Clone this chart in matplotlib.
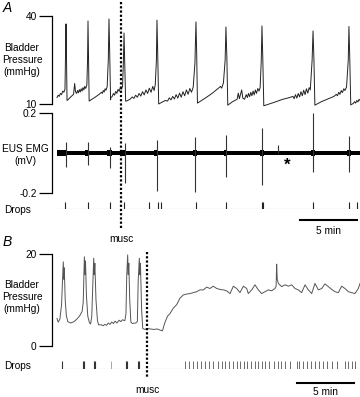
import matplotlib
matplotlib.use("Agg")
import matplotlib.pyplot as plt
from matplotlib.lines import Line2D
from matplotlib.transforms import blended_transform_factory

plt.rcParams["font.family"] = ["Liberation Sans", "DejaVu Sans"]

W, H = 360, 397
T_MAX = 26.58  # minutes shown in each row

# ---- panel A : bladder pressure (min, mmHg) ----
a_pressure = [
    (0.0, 12.2), (0.1, 13.0), (0.2, 12.6), (0.3, 13.6), (0.4, 13.2), (0.5, 14.4), (0.6, 14.0), (0.7, 15.0),
    (0.76, 30), (0.79, 37.3), (0.82, 30), (0.88, 11.2),
    (1.0, 11.6), (1.2, 12.4), (1.45, 13.3), (1.55, 17.0), (1.62, 14.2), (1.72, 13.6), (1.8, 14.6), (1.88, 13.8),
    (1.96, 14.9), (2.04, 14.1), (2.12, 15.2), (2.2, 14.4), (2.28, 15.6), (2.36, 14.8), (2.44, 16.0), (2.52, 15.3),
    (2.62, 16.5), (2.68, 25), (2.72, 38.3), (2.76, 28), (2.82, 11.0),
    (3.3, 12.2), (3.7, 13.3), (3.9, 14.0), (3.98, 13.6), (4.06, 14.6), (4.14, 14.1), (4.22, 15.2), (4.3, 14.7),
    (4.4, 15.9), (4.5, 25), (4.56, 39.0), (4.62, 28), (4.7, 11.4),
    (4.72, 12.2), (4.85, 12.6), (4.95, 13.6), (5.05, 13.0), (5.15, 14.3), (5.25, 13.6), (5.35, 15.0), (5.45, 14.3),
    (5.55, 15.6), (5.65, 15.0), (5.75, 16.0), (5.82, 24), (5.88, 34.2), (5.94, 24), (6.02, 11.0),
    (6.1, 11.0), (6.4, 11.6), (6.6, 12.4), (6.75, 11.9), (6.9, 13.0), (7.05, 12.3), (7.2, 13.6), (7.35, 12.7),
    (7.5, 14.2), (7.65, 13.1), (7.8, 14.8), (7.95, 13.6), (8.1, 15.4), (8.25, 14.0), (8.4, 16.0), (8.52, 14.6),
    (8.62, 16.6), (8.72, 25), (8.77, 38.6), (8.83, 28), (8.92, 10.0),
    (9.2, 10.6), (9.5, 11.2), (9.7, 11.0), (9.85, 12.1), (10.0, 11.4), (10.15, 12.6), (10.3, 11.7), (10.45, 13.2),
    (10.6, 12.0), (10.75, 13.7), (10.9, 12.3), (11.05, 14.2), (11.2, 12.8), (11.35, 14.8), (11.5, 13.3),
    (11.65, 15.3), (11.8, 14.0), (11.95, 15.8), (12.1, 24), (12.19, 38.0), (12.25, 28), (12.32, 10.3),
    (13.0, 12.0), (13.6, 13.6), (14.1, 15.2), (14.35, 16.0), (14.45, 15.4), (14.6, 17.2), (14.75, 25),
    (14.82, 36.25), (14.9, 26), (14.98, 9.6),
    (15.4, 10.8), (15.8, 11.6), (15.9, 13.7), (16.0, 11.8), (16.2, 14.8), (16.3, 12.0), (16.45, 11.6), (16.6, 13.2),
    (16.7, 12.2), (16.8, 13.6), (16.9, 12.5), (17.0, 14.0), (17.1, 12.8), (17.2, 14.4), (17.3, 13.1), (17.4, 14.8),
    (17.5, 13.6), (17.62, 15.3), (17.72, 14.4), (17.82, 15.6), (17.92, 25), (17.98, 36.6), (18.05, 26), (18.14, 9.4),
    (19.0, 10.5), (19.8, 11.6), (20.4, 12.2), (20.7, 12.6), (20.8, 11.8), (20.92, 13.2), (21.04, 12.0),
    (21.16, 13.6), (21.28, 12.4), (21.4, 14.2), (21.52, 12.8), (21.64, 14.7), (21.76, 13.2), (21.88, 15.2),
    (22.0, 13.7), (22.12, 15.6), (22.22, 14.8), (22.38, 25), (22.46, 34.9), (22.54, 25), (22.62, 9.6),
    (23.2, 10.8), (23.8, 11.8), (24.3, 12.6), (24.5, 13.3), (24.6, 12.8), (24.72, 14.0), (24.82, 13.3),
    (24.94, 14.6), (25.04, 13.9), (25.16, 15.2), (25.26, 14.6), (25.4, 15.8), (25.55, 25), (25.61, 36.4),
    (25.68, 26), (25.77, 9.7),
    (26.0, 10.2), (26.1, 10.8), (26.2, 10.3), (26.3, 11.2), (26.4, 10.7), (26.5, 11.6), (26.58, 11.2),
]

# EUS EMG (mV): spikes (time, up, down), bursts (start, end, half width)
a_emg_spikes = [
    (0.79, 0.055, -0.07), (2.72, 0.055, -0.06), (4.65, 0.03, -0.075), (5.96, 0.05, -0.15),
    (8.77, 0.065, -0.19), (12.1, 0.08, -0.195), (14.82, 0.09, -0.12), (17.98, 0.125, -0.16),
    (19.41, 0.04, 0.0), (22.46, 0.2, -0.095), (25.61, 0.085, -0.095),
]
a_emg_bursts = [
    (0.0, 0.75, 0.017), (2.5, 2.8, 0.016), (4.4, 4.8, 0.016), (5.5, 6.05, 0.016), (8.55, 8.9, 0.017),
    (11.95, 12.3, 0.017), (14.65, 14.95, 0.016), (17.8, 18.15, 0.017), (22.3, 22.6, 0.017), (25.45, 25.75, 0.017),
]
a_emg_noise = 0.0105
a_star = (20.18, -0.06)

a_drops = [0.70, 2.72, 4.65, 5.88, 8.07, 8.86, 9.08, 12.19, 14.82, 17.94, 18.03, 22.46, 25.61, 26.32]
a_musc = 5.61

# ---- panel B : bladder pressure (min, mmHg) ----
b_pressure = [
    (0.0, 6.0), (0.1, 5.2), (0.25, 5.8), (0.4, 9.0), (0.5, 15.5), (0.55, 18.3), (0.6, 14.5), (0.64, 17.0),
    (0.72, 10.0), (0.82, 6.6), (0.95, 5.3), (1.2, 5.0), (1.5, 5.3), (1.8, 6.0), (2.0, 6.6), (2.2, 7.5),
    (2.3, 9.5), (2.36, 16), (2.4, 19.4), (2.45, 15.5), (2.5, 18.5), (2.58, 11.0), (2.7, 6.5), (2.85, 5.0),
    (2.95, 4.8), (3.05, 6.5), (3.15, 14), (3.22, 19.1), (3.27, 15.5), (3.32, 18.0), (3.42, 10.0), (3.55, 5.5),
    (3.65, 4.6), (3.9, 4.6), (4.05, 4.4), (4.2, 4.7), (4.35, 4.5), (4.5, 5.0), (4.65, 4.7), (4.8, 5.2),
    (4.95, 4.9), (5.1, 5.4), (5.25, 5.0), (5.45, 5.6), (5.6, 5.3), (5.75, 5.7), (5.95, 5.5), (6.05, 7.0),
    (6.12, 15.5), (6.2, 19.8), (6.25, 15.5), (6.3, 18.0), (6.38, 10.0), (6.48, 5.2), (6.6, 4.9), (6.9, 5.0),
    (7.05, 5.3), (7.12, 14), (7.22, 19.1), (7.27, 15.5), (7.32, 18.0), (7.42, 8.0), (7.52, 3.8), (7.7, 3.6),
    (7.9, 3.8), (8.2, 3.7), (8.5, 3.6), (8.8, 3.7), (9.0, 3.5), (9.25, 3.3), (9.45, 5.0), (9.7, 6.5),
    (9.9, 7.0), (10.2, 8.2), (10.5, 9.0), (10.79, 10.4),
    (11.08, 11.1), (11.37, 11.3), (11.67, 11.4), (11.96, 11.6), (12.25, 11.8), (12.54, 12.2), (12.84, 12.2),
    (13.13, 12.8), (13.42, 12.5), (13.71, 13.0), (14.01, 12.5), (14.3, 12.3), (14.59, 12.2), (14.88, 12.0),
    (15.18, 11.4), (15.47, 13.0), (15.76, 12.5), (16.05, 11.6), (16.35, 13.0), (16.64, 12.5), (16.78, 11.4),
    (17.08, 12.2), (17.37, 13.3), (17.66, 12.2), (17.95, 11.4), (18.25, 11.8), (18.54, 12.2), (18.83, 12.0),
    (19.12, 12.5), (19.22, 13.0), (19.27, 17.8), (19.32, 14.5), (19.42, 13.6), (19.71, 12.9), (20.0, 13.3),
    (20.29, 13.0), (20.59, 13.3), (20.88, 12.5), (21.17, 12.2), (21.46, 11.6), (21.76, 13.3), (22.05, 12.2),
    (22.34, 11.4), (22.63, 13.6), (22.93, 12.2), (23.22, 12.5), (23.51, 13.5), (23.8, 12.9), (24.1, 12.3),
    (24.39, 11.8), (24.68, 11.6), (24.97, 13.0), (25.26, 12.5), (25.56, 11.8), (25.85, 11.6), (26.14, 11.4),
    (26.43, 12.5), (26.58, 13.6),
]

b_drops_dark = [0.46, 2.25, 2.37, 3.23, 3.33, 6.07, 6.18, 7.09, 7.19]
b_drops_light = [4.74]
b_drops_after = [
    11.23, 11.58, 11.90, 12.25, 12.61, 12.98, 13.33, 13.71, 14.15, 14.45, 14.74, 15.11, 15.46, 15.76,
    16.05, 16.40, 16.69, 17.02, 17.37, 17.66, 17.96, 18.25, 18.62, 19.04, 19.41, 19.65, 20.0, 20.44,
    21.03, 21.25, 21.61, 21.96, 22.25, 22.63, 23.01, 23.36, 23.71, 24.10, 24.54, 25.26, 25.55, 25.85, 26.14,
]
b_musc = 7.89

FS = 7.3


def fx(px):
    return px / W


def fy(py):
    return 1 - py / H


def row_axes(top, bottom):
    ax = fig.add_axes([fx(57), fy(bottom), fx(360) - fx(57), (bottom - top) / H])
    ax.set_xlim(0, T_MAX)
    ax.patch.set_visible(False)
    for s in ["top", "right", "bottom"]:
        ax.spines[s].set_visible(False)
    ax.set_xticks([])
    return ax


def bracket(ax, ticks, labels):
    ax.spines["left"].set_position(("outward", 3.6))
    ax.spines["left"].set_linewidth(0.9)
    ax.set_yticks(ticks)
    ax.set_yticklabels(labels)
    ax.tick_params(axis="y", length=9.5, width=0.9, labelsize=FS, pad=1.5)


def drops_axes(top, bottom):
    ax = row_axes(top, bottom)
    ax.spines["left"].set_visible(False)
    ax.set_yticks([])
    ax.set_ylim(0, 1)
    ax.hlines(0, 0, T_MAX, color="#b0b0b0", lw=0.8)
    return ax


fig = plt.figure(figsize=(W / 100, H / 100), dpi=100)

# ---------------- A ----------------
ax1 = row_axes(16, 104)
ax1.set_ylim(10, 40)
bracket(ax1, [10, 40], ["10", "40"])
t, p = zip(*a_pressure)
ax1.plot(t, p, color="#222222", lw=0.7, clip_on=False)

ax2 = row_axes(113, 193)
ax2.set_ylim(-0.2, 0.2)
bracket(ax2, [-0.2, 0.2], ["-0.2", "0.2"])
ax2.fill_between([0, T_MAX], -a_emg_noise, a_emg_noise, color="black", lw=0)
for t0, t1, hw in a_emg_bursts:
    ax2.fill_between([t0, t1], -hw, hw, color="black", lw=0)
for ts, up, dn in a_emg_spikes:
    ax2.vlines(ts, dn, up, color="#333333", lw=0.8)
ax2.text(a_star[0], a_star[1], "*", fontsize=12, fontweight="bold", ha="center", va="center")

ax3 = drops_axes(202, 209)
ax3.vlines(a_drops, 0, 1, color="#222222", lw=0.8)

# ---------------- B ----------------
ax4 = row_axes(254, 346)
ax4.set_ylim(0, 20)
bracket(ax4, [0, 20], ["0", "20"])
t, p = zip(*b_pressure)
ax4.plot(t, p, color="#555555", lw=0.7, clip_on=False)

ax5 = drops_axes(361, 369)
ax5.vlines(b_drops_dark, 0, 1, color="#333333", lw=0.8)
ax5.vlines(b_drops_light, 0, 1, color="#999999", lw=0.6)
ax5.vlines(b_drops_after, 0, 1, color="#555555", lw=0.6)

# muscimol markers, scale bars
trA = blended_transform_factory(ax1.transData, fig.transFigure)
trB = blended_transform_factory(ax4.transData, fig.transFigure)
fig.add_artist(Line2D([a_musc, a_musc], [fy(2), fy(229)], transform=trA, color="black",
                      lw=1.6, linestyle=(0, (1, 0.9))))
fig.add_artist(Line2D([b_musc, b_musc], [fy(252), fy(378)], transform=trB, color="black",
                      lw=1.6, linestyle=(0, (1, 0.9))))
fig.text(a_musc, fy(239), "musc", transform=trA, ha="center", va="center", fontsize=FS)
fig.text(b_musc, fy(390), "musc", transform=trB, ha="center", va="center", fontsize=FS)

fig.add_artist(Line2D([21.3, 26.3], [fy(220), fy(220)], transform=trA, color="black", lw=1.5))
fig.text(23.8, fy(231), "5 min", transform=trA, ha="center", va="center", fontsize=FS)
fig.add_artist(Line2D([21.05, 26.05], [fy(383), fy(383)], transform=trB, color="black", lw=1.5))
fig.text(23.55, fy(392), "5 min", transform=trB, ha="center", va="center", fontsize=FS)

# row labels
fig.text(fx(3), fy(8), "A", fontsize=10, style="italic", va="center")
fig.text(fx(3), fy(242), "B", fontsize=10, style="italic", va="center")
fig.text(fx(22), fy(60), "Bladder\nPressure\n(mmHg)", ha="center", va="center", fontsize=FS, linespacing=1.3)
fig.text(fx(25), fy(155), "EUS EMG\n(mV)", ha="center", va="center", fontsize=FS, linespacing=1.3)
fig.text(fx(4), fy(210), "Drops", ha="left", va="center", fontsize=FS)
fig.text(fx(22), fy(297), "Bladder\nPressure\n(mmHg)", ha="center", va="center", fontsize=FS, linespacing=1.3)
fig.text(fx(4), fy(366), "Drops", ha="left", va="center", fontsize=FS)

fig.savefig("out.png", dpi=100)
